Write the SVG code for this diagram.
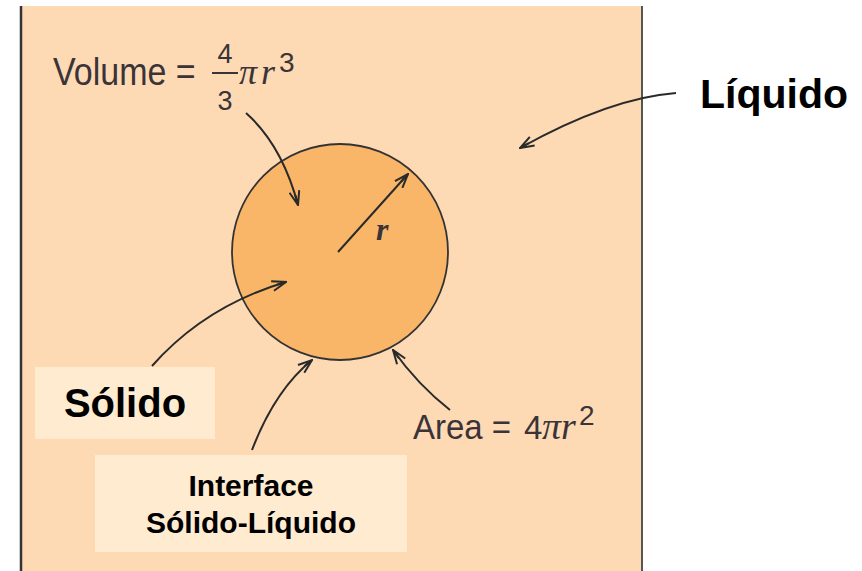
<svg xmlns="http://www.w3.org/2000/svg" width="862" height="571" viewBox="0 0 862 571">
<defs>
<style>
.arr{fill:none;stroke:#2a2a2a;stroke-width:2;marker-end:url(#ah)}
.eq{font-family:"Liberation Sans",Arial,sans-serif;fill:#3a3438}
.it{font-family:"Liberation Serif","Times New Roman",serif;font-style:italic;fill:#3a3438}
.lbl{font-family:"Liberation Sans",Arial,sans-serif;font-weight:bold;fill:#000}
.box{fill:#FFEBD0}
</style>
<marker id="ah" viewBox="0 0 16 12" refX="15" refY="6" markerWidth="16" markerHeight="12" markerUnits="userSpaceOnUse" orient="auto">
<path d="M1,1 L15,6 L1,11 M5,6 L15,6" fill="none" stroke="#2a2a2a" stroke-width="2"/>
</marker>
</defs>
<rect x="0" y="0" width="862" height="571" fill="#ffffff"/>
<g id="liquid-panel">
<rect x="21" y="6" width="621" height="570" fill="#FDDAB4"/>
<line x1="21" y1="6" x2="21" y2="571" stroke="#333" stroke-width="2.5"/>
<line x1="642" y1="6" x2="642" y2="571" stroke="#555" stroke-width="2"/>
</g>
<g id="solid-sphere">
<circle cx="340" cy="252" r="108" fill="#F9B669" stroke="#333" stroke-width="1.8"/>
</g>
<g id="connectors">
<path class="arr" d="M338,252 L408,174"/>
<path class="arr" d="M676,93 Q610,98 520,148"/>
<path class="arr" d="M246,113 Q282,145 298,205"/>
<path class="arr" d="M152,366 Q205,306 286,282"/>
<path class="arr" d="M252,450 Q275,390 312,360"/>
<path class="arr" d="M450,410 Q418,385 393,350"/>
</g>
<g id="radius-label">
<text class="it" x="376" y="240" font-size="32" font-weight="bold">r</text>
</g>
<g id="volume-label">
<text class="eq" transform="translate(53,85) scale(1,1.15)" x="0" y="0" font-size="34">Volume =</text>
<text class="eq" x="225" y="63" font-size="27" text-anchor="middle">4</text>
<line x1="212" y1="73" x2="238" y2="73" stroke="#3a3438" stroke-width="2"/>
<text class="eq" x="225" y="110" font-size="27" text-anchor="middle">3</text>
<text class="it" x="239" y="84" font-size="36">π</text>
<text class="it" x="261" y="84" font-size="36">r</text>
<text class="eq" x="279" y="72" font-size="28">3</text>
</g>
<g id="area-label">
<text class="eq" transform="translate(413,439) scale(1,1.08)" x="0" y="0" font-size="33">Area =</text>
<text class="eq" x="524" y="439" font-size="33">4</text>
<text class="it" x="542" y="439" font-size="38">πr</text>
<text class="eq" x="579" y="425" font-size="28">2</text>
</g>
<g id="liquido-label">
<text class="lbl" x="700" y="108" font-size="41">Líquido</text>
</g>
<g id="solido-label">
<rect class="box" x="35" y="367" width="180" height="72"/>
<text class="lbl" x="125" y="417" font-size="40" text-anchor="middle">Sólido</text>
</g>
<g id="interface-label">
<rect class="box" x="95" y="455" width="312" height="97"/>
<text class="lbl" x="251" y="496" font-size="30" text-anchor="middle">Interface</text>
<text class="lbl" x="251" y="533" font-size="30" text-anchor="middle">Sólido-Líquido</text>
</g>
</svg>
